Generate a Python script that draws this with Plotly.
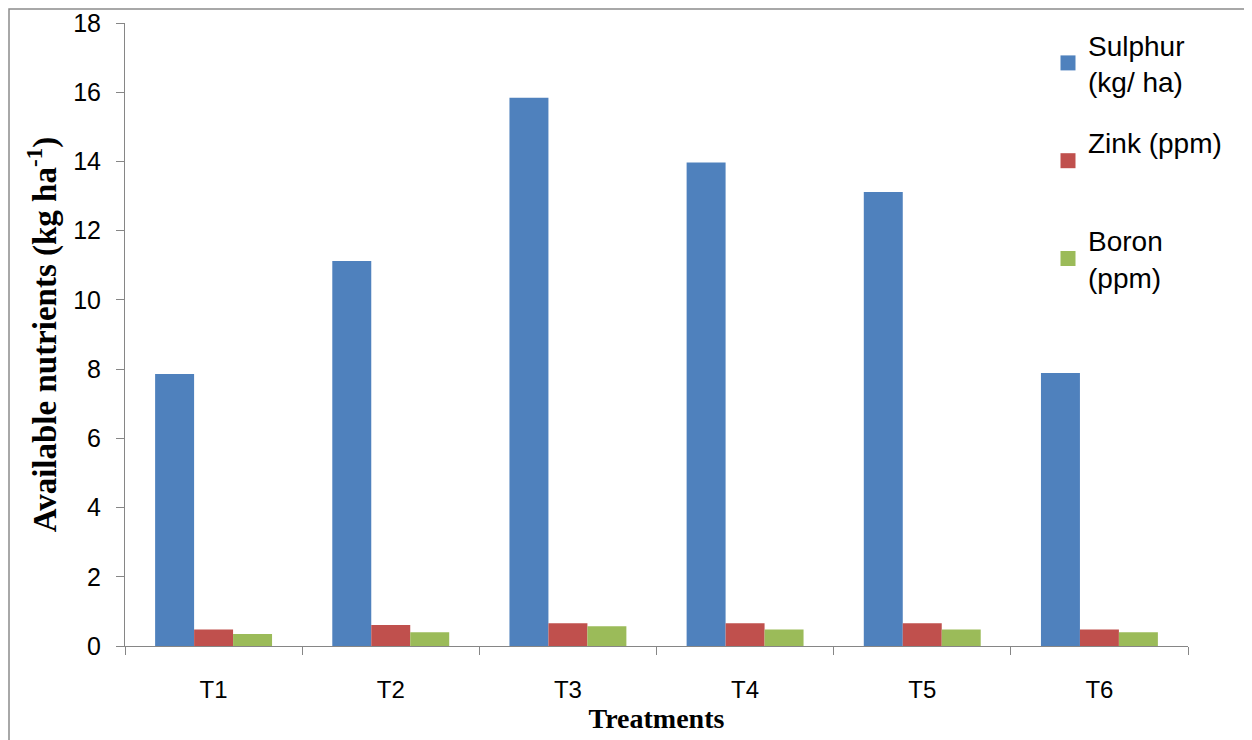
import plotly.graph_objects as go

treatments = ["T1", "T2", "T3", "T4", "T5", "T6"]
sulphur = [7.86, 11.12, 15.84, 13.97, 13.12, 7.89]
zink = [0.48, 0.61, 0.66, 0.66, 0.66, 0.48]
boron = [0.35, 0.40, 0.57, 0.48, 0.48, 0.40]

series_names = ["Sulphur<br>(kg/ ha)", "Zink (ppm)<br> ", "Boron<br>(ppm)"]
series_values = [sulphur, zink, boron]
colors = ["#4F81BD", "#C0504D", "#9BBB59"]

fig = go.Figure()
for name, vals, c in zip(series_names, series_values, colors):
    fig.add_trace(go.Bar(x=treatments, y=vals, name=name, marker_color=c,
                         marker_line_width=0, showlegend=False))
# legend entries with larger square swatches
for name, c in zip(series_names, colors):
    fig.add_trace(go.Scatter(x=[None], y=[None], mode="markers", name=name, legendgroup=name,
                             marker=dict(symbol="square", size=15, color=c)))

# the page has an 8px body margin; figure coords = page coords - 8
L, R, T, B = 117, 72, 15, 102
W, H = 1252, 740
pw, ph = W - L - R, H - T - B


def px(xf):
    return (xf - L) / pw


def py(yf):
    return (H - B - yf) / ph


fig.update_layout(
    width=W, height=H,
    margin=dict(l=L, r=R, t=T, b=B, autoexpand=False),
    plot_bgcolor="white", paper_bgcolor="white",
    barmode="group", bargap=0.34, bargroupgap=0,
    showlegend=True,
    legend=dict(x=px(1040), y=py(12), xanchor="left", yanchor="top",
                bgcolor="rgba(0,0,0,0)", traceorder="grouped", tracegroupgap=22,
                font=dict(family="Liberation Sans, Arial", size=28, color="#000000"),
                itemwidth=30),
    xaxis=dict(showline=True, linecolor="#868686", linewidth=1, automargin=False,
               ticks="outside", tickson="boundaries", ticklen=8, tickcolor="#868686",
               ticklabelstandoff=22,
               tickfont=dict(family="Liberation Sans, Arial", size=24, color="#000000"),
               title=dict(text="<b>Treatments</b>", standoff=6,
                          font=dict(family="Liberation Serif, Times New Roman, serif", size=28, color="#000000")),
               showgrid=False),
    yaxis=dict(range=[0, 18], dtick=2, showline=True, linecolor="#868686", linewidth=1, automargin=False,
               ticks="outside", ticklen=8, tickcolor="#868686", showgrid=False, zeroline=False,
               ticklabelstandoff=10,
               tickfont=dict(family="Liberation Sans, Arial", size=25, color="#000000"),
               title=dict(text="<b>Available nutrients (kg ha<sup>-1</sup>)</b>", standoff=6,
                          font=dict(family="Liberation Serif, Times New Roman, serif", size=33, color="#000000"))),
)

fig.add_shape(type="rect", xref="paper", yref="paper",
              x0=px(1), x1=px(1238), y0=py(760), y1=py(1),
              line=dict(color="#8c8c8c", width=1.5), fillcolor="rgba(0,0,0,0)", layer="below")

fig.write_html("out.html")
